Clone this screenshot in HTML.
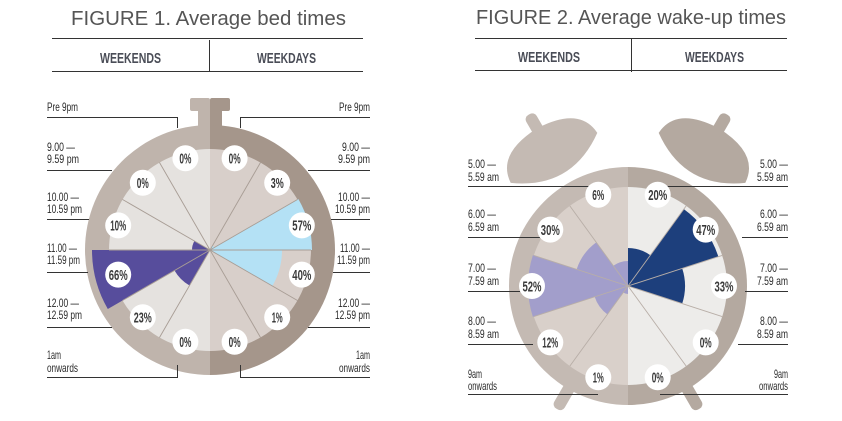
<!DOCTYPE html>
<html><head><meta charset="utf-8"><style>
html,body{margin:0;padding:0;background:#fff;width:842px;height:421px;overflow:hidden}
svg{display:block}
.t{font-family:"Liberation Sans",sans-serif;fill:#555}
.h{font-family:"Liberation Sans",sans-serif;font-weight:bold;fill:#4a4d57;font-size:15px}
.l{font-family:"Liberation Sans",sans-serif;fill:#2a2a2a;font-size:12px}
.b{font-family:"Liberation Sans",sans-serif;font-weight:bold;fill:#3a3a3a;font-size:15px;text-anchor:middle}
.ln{stroke:#333;stroke-width:1;fill:none}
</style></head><body>
<svg id="s" width="842" height="421" viewBox="0 0 842 421" xmlns="http://www.w3.org/2000/svg">
<text class="t" x="71" y="25" font-size="20" textLength="275" lengthAdjust="spacingAndGlyphs">FIGURE 1. Average bed times</text>
<line class="ln" x1="52" y1="38.5" x2="363" y2="38.5"/><line class="ln" x1="52" y1="71.5" x2="363" y2="71.5"/><line class="ln" x1="209.5" y1="40" x2="209.5" y2="71"/>
<text class="h" x="100" y="63" textLength="61" lengthAdjust="spacingAndGlyphs">WEEKENDS</text>
<text class="h" x="257" y="63" textLength="59" lengthAdjust="spacingAndGlyphs">WEEKDAYS</text>
<text class="t" x="476" y="24" font-size="20" textLength="310" lengthAdjust="spacingAndGlyphs">FIGURE 2. Average wake-up times</text>
<line class="ln" x1="475" y1="38.5" x2="787" y2="38.5"/><line class="ln" x1="475" y1="70.5" x2="787" y2="70.5"/><line class="ln" x1="631.5" y1="39" x2="631.5" y2="72"/>
<text class="h" x="518" y="62" textLength="62" lengthAdjust="spacingAndGlyphs">WEEKENDS</text>
<text class="h" x="685" y="62" textLength="59" lengthAdjust="spacingAndGlyphs">WEEKDAYS</text>

<rect x="190" y="98" width="20" height="13" rx="2" fill="#bfb4ac"/><rect x="210" y="98" width="20" height="13" rx="2" fill="#a5968b"/>
<rect x="198" y="108" width="12" height="25" fill="#bfb4ac"/><rect x="210" y="108" width="12" height="25" fill="#a5968b"/>
<g id="f1"></g>

<g transform="translate(628,286)">
 <g transform="rotate(-30)" fill="#c4bab3"><path d="M-50,-148 Q0,-112 50,-148 Q48,-180 0,-182 Q-48,-180 -50,-148Z"/><rect x="-6" y="-198" width="12" height="24" rx="5"/></g>
 <g transform="rotate(30)" fill="#b4a9a0"><path d="M-50,-148 Q0,-112 50,-148 Q48,-180 0,-182 Q-48,-180 -50,-148Z"/><rect x="-6" y="-198" width="12" height="24" rx="5"/></g>
 <rect transform="rotate(210)" x="-6" y="-142" width="12" height="34" rx="5" fill="#c4bab3"/>
 <rect transform="rotate(150)" x="-6" y="-142" width="12" height="34" rx="5" fill="#b4a9a0"/>
</g>
<g id="f2"></g>

<text class="l" x="47" y="111" textLength="31" lengthAdjust="spacingAndGlyphs">Pre 9pm</text>
<polyline class="ln" points="47,117.5 177.5,117.5 177.5,128"/>
<text class="l" x="47" y="151" textLength="28" lengthAdjust="spacingAndGlyphs">9.00 —</text>
<text class="l" x="47" y="163" textLength="32" lengthAdjust="spacingAndGlyphs">9.59 pm</text>
<line class="ln" x1="47" y1="170.5" x2="112" y2="170.5"/>
<text class="l" x="47" y="201" textLength="32" lengthAdjust="spacingAndGlyphs">10.00 —</text>
<text class="l" x="47" y="213" textLength="35" lengthAdjust="spacingAndGlyphs">10.59 pm</text>
<line class="ln" x1="47" y1="219.5" x2="89" y2="219.5"/>
<text class="l" x="47" y="252" textLength="30" lengthAdjust="spacingAndGlyphs">11.00 —</text>
<text class="l" x="47" y="264" textLength="33" lengthAdjust="spacingAndGlyphs">11.59 pm</text>
<line class="ln" x1="47" y1="272.5" x2="88" y2="272.5"/>
<text class="l" x="47" y="307" textLength="32" lengthAdjust="spacingAndGlyphs">12.00 —</text>
<text class="l" x="47" y="319" textLength="35" lengthAdjust="spacingAndGlyphs">12.59 pm</text>
<line class="ln" x1="47" y1="327.5" x2="112" y2="327.5"/>
<text class="l" x="47" y="359" textLength="14" lengthAdjust="spacingAndGlyphs">1am</text>
<text class="l" x="47" y="372" textLength="31" lengthAdjust="spacingAndGlyphs">onwards</text>
<polyline class="ln" points="47,377.5 177.5,377.5 177.5,365"/>
<g text-anchor="end">
<text class="l" x="370" y="111" textLength="31" lengthAdjust="spacingAndGlyphs">Pre 9pm</text>
<text class="l" x="370" y="151" textLength="28" lengthAdjust="spacingAndGlyphs">9.00 —</text>
<text class="l" x="370" y="163" textLength="32" lengthAdjust="spacingAndGlyphs">9.59 pm</text>
<text class="l" x="370" y="201" textLength="32" lengthAdjust="spacingAndGlyphs">10.00 —</text>
<text class="l" x="370" y="213" textLength="35" lengthAdjust="spacingAndGlyphs">10.59 pm</text>
<text class="l" x="370" y="252" textLength="30" lengthAdjust="spacingAndGlyphs">11.00 —</text>
<text class="l" x="370" y="264" textLength="33" lengthAdjust="spacingAndGlyphs">11.59 pm</text>
<text class="l" x="370" y="307" textLength="32" lengthAdjust="spacingAndGlyphs">12.00 —</text>
<text class="l" x="370" y="319" textLength="35" lengthAdjust="spacingAndGlyphs">12.59 pm</text>
<text class="l" x="370" y="359" textLength="14" lengthAdjust="spacingAndGlyphs">1am</text>
<text class="l" x="370" y="372" textLength="31" lengthAdjust="spacingAndGlyphs">onwards</text>
</g>
<polyline class="ln" points="370,117.5 240.5,117.5 240.5,128"/>
<line class="ln" x1="308" y1="170.5" x2="370" y2="170.5"/>
<line class="ln" x1="331" y1="219.5" x2="370" y2="219.5"/>
<line class="ln" x1="333" y1="272.5" x2="370" y2="272.5"/>
<line class="ln" x1="308" y1="327.5" x2="370" y2="327.5"/>
<polyline class="ln" points="370,377.5 240.5,377.5 240.5,365"/>

<text class="l" x="468" y="168" textLength="28" lengthAdjust="spacingAndGlyphs">5.00 —</text>
<text class="l" x="468" y="181" textLength="31" lengthAdjust="spacingAndGlyphs">5.59 am</text>
<text class="l" x="468" y="218" textLength="28" lengthAdjust="spacingAndGlyphs">6.00 —</text>
<text class="l" x="468" y="231" textLength="31" lengthAdjust="spacingAndGlyphs">6.59 am</text>
<text class="l" x="468" y="272" textLength="28" lengthAdjust="spacingAndGlyphs">7.00 —</text>
<text class="l" x="468" y="285" textLength="31" lengthAdjust="spacingAndGlyphs">7.59 am</text>
<text class="l" x="468" y="325" textLength="28" lengthAdjust="spacingAndGlyphs">8.00 —</text>
<text class="l" x="468" y="338" textLength="31" lengthAdjust="spacingAndGlyphs">8.59 am</text>
<text class="l" x="468" y="378" textLength="14" lengthAdjust="spacingAndGlyphs">9am</text>
<text class="l" x="468" y="390" textLength="29" lengthAdjust="spacingAndGlyphs">onwards</text>
<line class="ln" x1="468" y1="186.5" x2="598" y2="186.5"/>
<line class="ln" x1="468" y1="237.5" x2="540" y2="237.5"/>
<line class="ln" x1="468" y1="291.5" x2="520" y2="291.5"/>
<line class="ln" x1="468" y1="344.5" x2="533" y2="344.5"/>
<line class="ln" x1="468" y1="394.5" x2="598" y2="394.5"/>
<g text-anchor="end">
<text class="l" x="788" y="168" textLength="28" lengthAdjust="spacingAndGlyphs">5.00 —</text>
<text class="l" x="788" y="181" textLength="31" lengthAdjust="spacingAndGlyphs">5.59 am</text>
<text class="l" x="788" y="218" textLength="28" lengthAdjust="spacingAndGlyphs">6.00 —</text>
<text class="l" x="788" y="231" textLength="31" lengthAdjust="spacingAndGlyphs">6.59 am</text>
<text class="l" x="788" y="272" textLength="28" lengthAdjust="spacingAndGlyphs">7.00 —</text>
<text class="l" x="788" y="285" textLength="31" lengthAdjust="spacingAndGlyphs">7.59 am</text>
<text class="l" x="788" y="325" textLength="28" lengthAdjust="spacingAndGlyphs">8.00 —</text>
<text class="l" x="788" y="338" textLength="31" lengthAdjust="spacingAndGlyphs">8.59 am</text>
<text class="l" x="788" y="378" textLength="14" lengthAdjust="spacingAndGlyphs">9am</text>
<text class="l" x="788" y="390" textLength="29" lengthAdjust="spacingAndGlyphs">onwards</text>
</g>
<line class="ln" x1="660" y1="186.5" x2="788" y2="186.5"/>
<line class="ln" x1="742" y1="237.5" x2="788" y2="237.5"/>
<line class="ln" x1="745" y1="291.5" x2="788" y2="291.5"/>
<line class="ln" x1="738" y1="344.5" x2="788" y2="344.5"/>
<line class="ln" x1="660" y1="394.5" x2="788" y2="394.5"/>

<g fill="#fff">
<circle cx="185.4" cy="158.2" r="13"/><circle cx="142.8" cy="182.8" r="13"/><circle cx="118.2" cy="225.4" r="13"/><circle cx="118.2" cy="274.6" r="13"/><circle cx="142.8" cy="317.2" r="13"/><circle cx="185.4" cy="341.8" r="13"/>
<circle cx="234.6" cy="158.2" r="13"/><circle cx="277.2" cy="182.8" r="13"/><circle cx="301.8" cy="225.4" r="13"/><circle cx="301.8" cy="274.6" r="13"/><circle cx="277.2" cy="317.2" r="13"/><circle cx="234.6" cy="341.8" r="13"/>
<circle cx="598.3" cy="194.7" r="13"/><circle cx="550.3" cy="229.6" r="13"/><circle cx="532" cy="286" r="13"/><circle cx="550.3" cy="342.4" r="13"/><circle cx="598.3" cy="377.3" r="13"/>
<circle cx="657.7" cy="194.7" r="13"/><circle cx="705.7" cy="229.6" r="13"/><circle cx="724" cy="286" r="13"/><circle cx="705.7" cy="342.4" r="13"/><circle cx="657.7" cy="377.3" r="13"/>
</g>
<text class="b" x="185.4" y="163.5" textLength="12" lengthAdjust="spacingAndGlyphs">0%</text>
<text class="b" x="142.8" y="188.1" textLength="12" lengthAdjust="spacingAndGlyphs">0%</text>
<text class="b" x="118.2" y="230.7" textLength="16" lengthAdjust="spacingAndGlyphs">10%</text>
<text class="b" x="118.2" y="279.9" textLength="19" lengthAdjust="spacingAndGlyphs">66%</text>
<text class="b" x="142.8" y="322.5" textLength="18" lengthAdjust="spacingAndGlyphs">23%</text>
<text class="b" x="185.4" y="347.1" textLength="12" lengthAdjust="spacingAndGlyphs">0%</text>
<text class="b" x="234.6" y="163.5" textLength="12" lengthAdjust="spacingAndGlyphs">0%</text>
<text class="b" x="277.2" y="188.1" textLength="13" lengthAdjust="spacingAndGlyphs">3%</text>
<text class="b" x="301.8" y="230.7" textLength="19" lengthAdjust="spacingAndGlyphs">57%</text>
<text class="b" x="301.8" y="279.9" textLength="19" lengthAdjust="spacingAndGlyphs">40%</text>
<text class="b" x="277.2" y="322.5" textLength="11" lengthAdjust="spacingAndGlyphs">1%</text>
<text class="b" x="234.6" y="347.1" textLength="12" lengthAdjust="spacingAndGlyphs">0%</text>
<text class="b" x="598.3" y="200" textLength="12" lengthAdjust="spacingAndGlyphs">6%</text>
<text class="b" x="550.3" y="234.9" textLength="19" lengthAdjust="spacingAndGlyphs">30%</text>
<text class="b" x="532" y="291.3" textLength="19" lengthAdjust="spacingAndGlyphs">52%</text>
<text class="b" x="550.3" y="347.7" textLength="16" lengthAdjust="spacingAndGlyphs">12%</text>
<text class="b" x="598.3" y="382.6" textLength="11" lengthAdjust="spacingAndGlyphs">1%</text>
<text class="b" x="657.7" y="200" textLength="19" lengthAdjust="spacingAndGlyphs">20%</text>
<text class="b" x="705.7" y="234.9" textLength="19" lengthAdjust="spacingAndGlyphs">47%</text>
<text class="b" x="724" y="291.3" textLength="19" lengthAdjust="spacingAndGlyphs">33%</text>
<text class="b" x="705.7" y="347.7" textLength="12" lengthAdjust="spacingAndGlyphs">0%</text>
<text class="b" x="657.7" y="382.6" textLength="12" lengthAdjust="spacingAndGlyphs">0%</text>
</svg>
<script>
(function(){
var NS="http://www.w3.org/2000/svg";
function P(cx,cy,r,a){a=a*Math.PI/180;return [cx+r*Math.sin(a),cy-r*Math.cos(a)];}
function wedge(g,cx,cy,r,a1,a2,fill){if(r<=0)return;var p1=P(cx,cy,r,a1),p2=P(cx,cy,r,a2);
var e=document.createElementNS(NS,"path");e.setAttribute("d","M"+cx+","+cy+"L"+p1+"A"+r+","+r+" 0 "+((a2-a1)>180?1:0)+" 1 "+p2+"Z");e.setAttribute("fill",fill);g.appendChild(e);}
function line(g,cx,cy,r,a,col){var p=P(cx,cy,r,a);var e=document.createElementNS(NS,"line");e.setAttribute("x1",cx);e.setAttribute("y1",cy);e.setAttribute("x2",p[0]);e.setAttribute("y2",p[1]);e.setAttribute("stroke",col);e.setAttribute("stroke-width","0.9");g.appendChild(e);}
function clock(id,cx,cy,R,rf,cols,n,lb,rb){
 var g=document.getElementById(id);
 wedge(g,cx,cy,R,180,360,cols[0]);wedge(g,cx,cy,R,0,180,cols[1]);
 wedge(g,cx,cy,rf,180,360,cols[2]);wedge(g,cx,cy,rf,0,180,cols[3]);
 var s=180/n,i;
 for(i=0;i<n;i++){wedge(g,cx,cy,rb[i],i*s,(i+1)*s,cols[5]);}
 for(i=0;i<n;i++){wedge(g,cx,cy,lb[i],360-(i+1)*s,360-i*s,cols[4]);}
 for(i=1;i<n;i++){line(g,cx,cy,rf,i*s,cols[6]);line(g,cx,cy,rf,360-i*s,cols[6]);}
}
clock("f1",210,250,125,101,["#bfb4ac","#a5968b","#e5e2df","#d8cfca","#574d9c","#b4e1f5","#a89d95"],6,[0,0,18,118,41,0],[0,5,102,72,2,0]);
clock("f2",628,286,119,99,["#c4bab3","#b4a9a0","#d9d0ca","#edecea","#a29ecb","#1d3f7c","#b8aea7"],5,[25,54,100,35,8],[38,95,57,0,0]);
})();
</script>
</body></html>
